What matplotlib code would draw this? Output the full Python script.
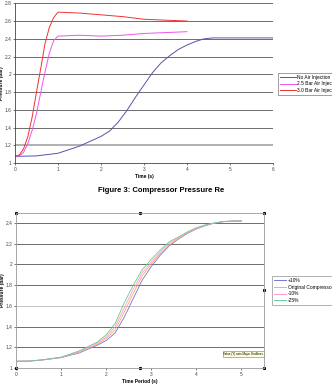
import matplotlib
matplotlib.use("Agg")
import matplotlib.pyplot as plt
from matplotlib.lines import Line2D

plt.rcParams['font.family'] = ['Liberation Sans', 'DejaVu Sans']

# ---- top chart: compressor pressure with air injection ----
t_no = [0, 0.5, 1.0, 1.5, 2.0, 2.2, 2.4, 2.6, 2.8, 3.0, 3.2, 3.4, 3.6, 3.8, 4.0, 4.2, 4.4, 4.6, 5.0, 5.5, 6.0]
p_no = [1.075, 1.08, 1.11, 1.19, 1.30, 1.36, 1.46, 1.59, 1.74, 1.88, 2.02, 2.13, 2.21, 2.28, 2.33, 2.37, 2.40, 2.41, 2.41, 2.41, 2.41]
t_inj = [0, 0.1, 0.2, 0.3, 0.4, 0.5, 0.6, 0.7, 0.8, 0.9, 1.0, 1.5, 2.0, 2.5, 3.0, 3.5, 4.0]
p_25 = [1.075, 1.08, 1.12, 1.22, 1.37, 1.56, 1.80, 2.03, 2.24, 2.38, 2.43, 2.44, 2.43, 2.44, 2.46, 2.47, 2.48]
p_30 = [1.075, 1.09, 1.16, 1.30, 1.52, 1.80, 2.07, 2.35, 2.53, 2.64, 2.70, 2.69, 2.67, 2.65, 2.62, 2.61, 2.60]
top_labels = ['No Air Injection', '2.5 Bar Air Injection', '3.0 Bar Air Injection']
top_colors = ['#5555aa', '#ee55ee', '#ee3333']

# ---- bottom chart: compressor size sensitivity ----
t_s = [0, 0.3, 0.6, 1.0, 1.4, 1.8, 2.0, 2.2, 2.4, 2.6, 2.8, 3.0, 3.2, 3.4, 3.6, 3.8, 4.0, 4.2, 4.4, 4.6, 4.8, 5.0]
p_plus10 = [1.065, 1.067, 1.078, 1.10, 1.145, 1.22, 1.265, 1.34, 1.49, 1.67, 1.85, 1.98, 2.09, 2.18,
            2.245, 2.30, 2.343, 2.375, 2.40, 2.413, 2.418, 2.42]
p_orig = [1.065, 1.067, 1.079, 1.102, 1.152, 1.23, 1.285, 1.37, 1.54, 1.72, 1.89, 2.005, 2.105, 2.19,
          2.25, 2.304, 2.346, 2.377, 2.40, 2.414, 2.419, 2.42]
p_min10 = [1.065, 1.067, 1.079, 1.103, 1.158, 1.24, 1.30, 1.40, 1.58, 1.76, 1.92, 2.025, 2.12, 2.205,
           2.257, 2.308, 2.348, 2.378, 2.40, 2.414, 2.42, 2.42]
p_min25 = [1.065, 1.067, 1.08, 1.105, 1.165, 1.25, 1.32, 1.43, 1.63, 1.80, 1.95, 2.05, 2.14, 2.22,
           2.265, 2.315, 2.355, 2.383, 2.40, 2.415, 2.42, 2.42]
bot_labels = ['+10%', 'Original Compressor', '-10%', '-25%']
bot_colors = ['#7777cc', '#ffaa66', '#ff99cc', '#66cc99']

W, H = 332, 384
fig = plt.figure(figsize=(W / 100, H / 100), dpi=100)
fig.patch.set_facecolor('white')

def px_axes(x0, y0, x1, y1):
    return fig.add_axes([x0 / W, 1 - y1 / H, (x1 - x0) / W, (y1 - y0) / H])

fs = 3.5

# top
ax1 = px_axes(15, 3.3, 273, 163)
ax1.plot(t_no, p_no, color=top_colors[0], lw=0.7, label=top_labels[0])
ax1.plot(t_inj, p_25, color=top_colors[1], lw=0.7, label=top_labels[1])
ax1.plot(t_inj, p_30, color=top_colors[2], lw=0.7, label=top_labels[2])
ax1.set_xlim(0, 6)
ax1.set_ylim(1, 2.8)
ax1.set_xticks(range(7))
ax1.set_yticks([1, 1.2, 1.4, 1.6, 1.8, 2, 2.2, 2.4, 2.6, 2.8])
ax1.set_yticklabels(['1', '1.2', '1.4', '1.6', '1.8', '2', '2.2', '2.4', '2.6', '2.8'])
for v in [1.2, 1.4, 1.6, 1.8, 2.0, 2.2, 2.4, 2.6, 2.8]:
    if v == 1.2:
        ax1.axhline(v, color='#aaaaaa', lw=1.3, zorder=0)
    else:
        ax1.axhline(v, color='#555555', lw=0.6, zorder=0)
ax1.spines['top'].set_visible(False)
ax1.spines['right'].set_visible(False)
ax1.spines['left'].set_color('#444444')
ax1.spines['bottom'].set_color('#444444')
ax1.spines['left'].set_linewidth(0.6)
ax1.spines['bottom'].set_linewidth(0.6)
ax1.tick_params(labelsize=fs, length=1.5, width=0.5, pad=1.2, colors='#444444')
ax1.set_xlabel('Time (s)', fontsize=fs, fontweight='bold', labelpad=1.5)
ax1.set_ylabel('Pressure (bar)', fontsize=fs, fontweight='bold', va='center')
ax1.yaxis.set_label_coords(-0.053, 0.5)
leg1 = fig.legend(loc='upper left', bbox_to_anchor=(278 / W, 1 - 72.7 / H), fontsize=fs,
                  frameon=True, fancybox=False, edgecolor='#555555', handlelength=3.2,
                  handletextpad=0.3, borderpad=0.4, labelspacing=0.35, borderaxespad=0)
leg1.get_frame().set_linewidth(0.5)

fig.text(161 / W, 1 - 190 / H, 'Figure 3: Compressor Pressure Re', fontsize=5.5,
         fontweight='bold', ha='center', va='center')

# bottom
ax2 = px_axes(16, 212.7, 264, 368)
lines = []
for p, c, lab in zip([p_plus10, p_orig, p_min10, p_min25], bot_colors, bot_labels):
    ax2.plot(t_s, p, color=c, lw=0.6)
    lines.append(Line2D([], [], color=c, lw=0.7, label=lab))
ax2.set_xlim(0, 5.5)
ax2.set_ylim(1, 2.5)
ax2.set_xticks(range(6))
ax2.set_yticks([1, 1.2, 1.4, 1.6, 1.8, 2, 2.2, 2.4])
ax2.set_yticklabels(['1', '1.2', '1.4', '1.6', '1.8', '2', '2.2', '2.4'])
for v in [1.2, 1.4, 1.6, 1.8, 2.0, 2.2, 2.4]:
    if v == 1.6:
        ax2.axhline(v, color='#bbbbbb', lw=0.6, zorder=0)
    else:
        ax2.axhline(v, color='#555555', lw=0.6, zorder=0)
for s in ax2.spines.values():
    s.set_color('#999999')
    s.set_linewidth(0.6)
ax2.tick_params(labelsize=fs, length=1.5, width=0.5, pad=1.2, colors='#444444')
ax2.set_xlabel('Time Period (s)', fontsize=fs, fontweight='bold', labelpad=1.5)
ax2.set_ylabel('Pressure (bar)', fontsize=fs, fontweight='bold', va='center')
ax2.yaxis.set_label_coords(-0.056, 0.5)
# selection handles on the plot area
hx = [0, 0.5, 1, 1, 1, 0.5, 0]
hy = [1, 1, 1, 0.5, 0, 0, 0]
ax2.plot(hx, hy, 's', color='black', ms=1.2, transform=ax2.transAxes, clip_on=False, ls='none')
ax2.text(4.6, 1.135, 'Value (Y) axis Major Gridlines', fontsize=2.2, ha='left', va='center',
         bbox=dict(boxstyle='square,pad=0.3', fc='#ffffdd', ec='#777777', lw=0.4), clip_on=False)
leg2 = fig.legend(handles=lines, loc='upper left', bbox_to_anchor=(271.7 / W, 1 - 276 / H), fontsize=fs,
                  frameon=True, fancybox=False, edgecolor='#777777', handlelength=2.5,
                  handletextpad=0.4, borderpad=0.4, labelspacing=0.35, borderaxespad=0)
leg2.get_frame().set_linewidth(0.5)

fig.savefig('out.png', dpi=100)
